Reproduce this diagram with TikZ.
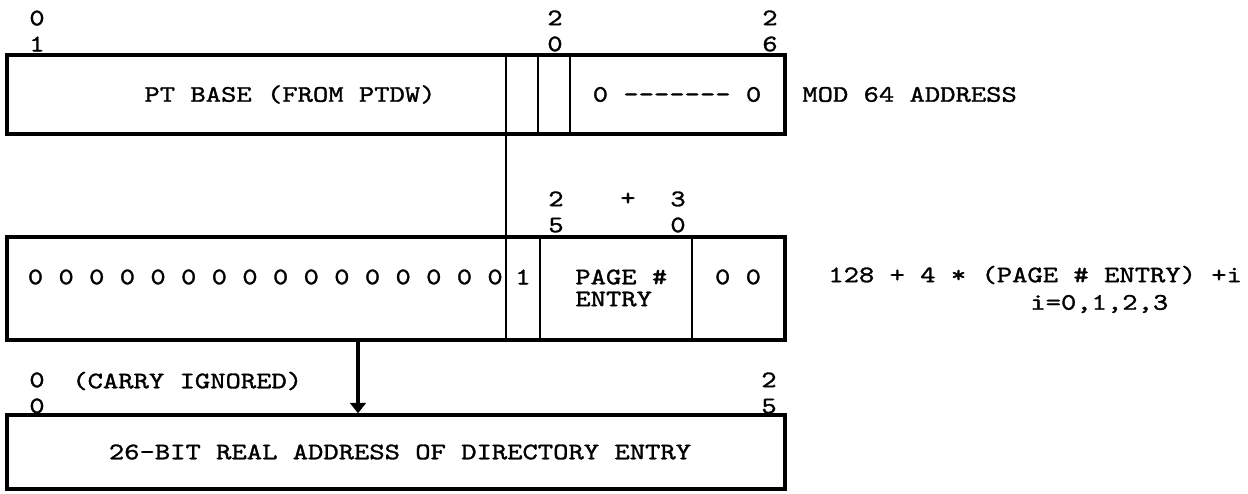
\documentclass[tikz,border=0pt]{standalone}
\usepackage{fontspec}
\newfontfamily\typer[FakeStretch=1.23, FakeBold=1.3]{lmmono10-regular.otf}
\usepackage{tikz}
\usetikzlibrary{positioning, arrows.meta}

\newcommand{\dashrun}{-\kern0pt-\kern0pt-\kern0pt-\kern0pt-\kern0pt-\kern0pt-}

\begin{document}
\begin{tikzpicture}[
    typed/.style={font=\fontsize{13.5}{12.5}\typer, inner sep=0pt},
    bits/.style={font=\fontsize{13.5}{14.8}\typer, inner sep=0pt, align=center},
    field/.style={draw, line width=1.9pt, inner sep=0pt, minimum width=15.56cm},
    fine/.style={line width=0.6pt},
    heavy/.style={line width=1.7pt},
    arrow/.style={-{Triangle[width=9pt,length=6pt]}, line width=1.8pt}
]
    \useasboundingbox (0,0) rectangle (24.96,9.88);

    % Registers
    \node[field, minimum height=1.58cm] (pt) at (7.92,7.99) {};
    \node[field, minimum height=2.06cm] (adr) at (7.92,4.11) {};
    \node[field, minimum height=1.48cm] (real) at (7.92,0.84) {};

    % Field borders
    \coordinate (split) at (10.12,7.20);
    \draw[fine] (10.12,8.78) -- (split);
    \draw[fine] (10.76,8.78) -- (10.76,7.20);
    \draw[heavy] (11.40,8.78) -- (11.40,7.20);
    \foreach \x in {10.80,13.84}
        \draw[heavy] (\x,5.14) -- (\x,3.08);

    % Connectors
    \draw[fine] (split) -- (split |- adr.south);
    \coordinate (carry) at (7.16,3.08);
    \draw[arrow] (carry) -- (carry |- real.north);

    % Bit numbers
    \node[bits] (b01) at (0.74,9.26) {0\\1};
    \node[bits] (b20) at (11.10,9.26) {2\\0};
    \node[bits] (b26) at (15.40,9.26) {2\\6};
    \node[bits] (b25) at (11.12,5.64) {2\\5};
    \node[typed] (plus) at (12.56,5.90) {+};
    \node[bits] (b30) at (13.56,5.64) {3\\0};
    \node[bits] (c00) at (0.74,2.02) {0\\0};
    \node[bits] (c25) at (15.38,2.02) {2\\5};

    % Field contents
    \node[typed] (base) at (5.80,7.99) {PT BASE (FROM PTDW)};
    \node[typed] (low6) at (13.54,7.99) {0 \dashrun{} 0};
    \node[typed, anchor=west] (mod) at (16.04,7.99) {MOD 64 ADDRESS};

    \node[typed, anchor=west] (lead) at (0.55,4.34) {0 0 0 0 0 0 0 0 0 0 0 0 0 0 0 0};
    \node[typed] (one) at (10.46,4.34) {1};
    \node[typed, anchor=west, align=left] (page) at (11.50,4.12) {PAGE \#\\ENTRY};
    \node[typed] (low2) at (14.76,4.34) {0 0};
    \node[typed, anchor=west] (formula) at (16.56,4.38) {128 + 4 * (PAGE \# ENTRY) +i};
    \node[typed, anchor=west] (range) at (20.60,3.80) {i=0,1,2,3};

    \node[typed, anchor=west] (ignored) at (1.44,2.26) {(CARRY IGNORED)};
    \node[typed] (dir) at (8.00,0.84) {26-BIT REAL ADDRESS OF DIRECTORY ENTRY};
\end{tikzpicture}
\end{document}
